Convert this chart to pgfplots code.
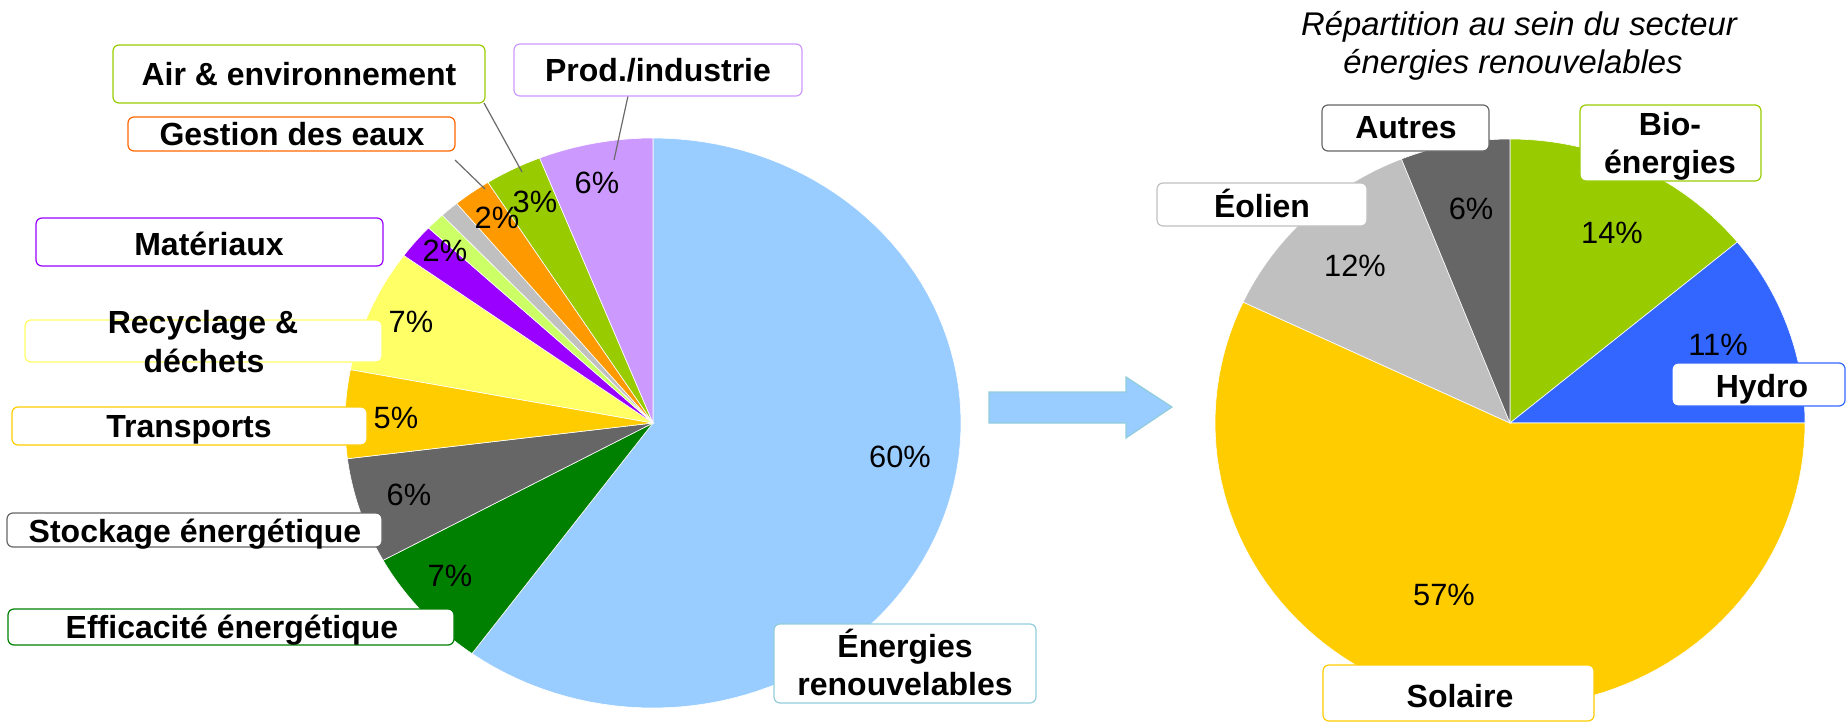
\documentclass[border=0pt]{standalone}
\usepackage{pgfplots}
\pgfplotsset{compat=1.18}
\usepackage{pgfplotstable}
\usepackage{fontspec}
\setmainfont{Liberation Sans}

\definecolor{cER}{HTML}{99CCFF}
\definecolor{cEE}{HTML}{008000}
\definecolor{cSE}{HTML}{666666}
\definecolor{cTR}{HTML}{FFCC00}
\definecolor{cRD}{HTML}{FFFF66}
\definecolor{cMA}{HTML}{9900FF}
\definecolor{cXA}{HTML}{CCFF66}
\definecolor{cXB}{HTML}{C0C0C0}
\definecolor{cGE}{HTML}{FF9900}
\definecolor{cGEb}{HTML}{FF6600}
\definecolor{cAE}{HTML}{99CC00}
\definecolor{cPI}{HTML}{CC99FF}
\definecolor{cBI}{HTML}{99CC00}
\definecolor{cHY}{HTML}{3366FF}
\definecolor{cSO}{HTML}{FFCC00}
\definecolor{cEO}{HTML}{C0C0C0}
\definecolor{cAU}{HTML}{666666}
\definecolor{cTeal}{HTML}{92CDDC}
\definecolor{cLead}{HTML}{6A6A6A}

% Left pie: share of each sector (%), clockwise from 12 o'clock
\pgfplotstableread{
key value color
ER 60 cER
EE 7 cEE
SE 6 cSE
TR 5 cTR
RD 7 cRD
MA 2 cMA
XA 1 cXA
XB 1 cXB
GE 2 cGE
AE 3 cAE
PI 6 cPI
}\leftpie

% Right pie: renewable energies breakdown (%)
\pgfplotstableread{
key value color
BI 14 cBI
HY 11 cHY
SO 57 cSO
EO 12 cEO
AU 6 cAU
}\rightpie

% #1 table, #2 last row index, #3 cx, #4 cy, #5 rx, #6 ry
\newcommand\drawpie[6]{%
  \def\pieacc{90}%
  \pgfplotsforeachungrouped \i in {0,...,#2}{%
    \pgfplotstablegetelem{\i}{value}\of{#1}\let\pieval\pgfplotsretval
    \pgfplotstablegetelem{\i}{color}\of{#1}\let\piecol\pgfplotsretval
    \pgfmathsetmacro\pieend{\pieacc-3.6*\pieval}%
    \edef\piecmd{\noexpand\addplot[fill=\piecol, draw=white, line width=0.3pt, domain=\pieend:\pieacc, samples=90] ({#3+#5*cos(x)},{#4-#6*sin(x)}) -- (axis cs:#3,#4) -- cycle;}%
    \piecmd
    \let\pieacc\pieend
  }%
}

\tikzset{
  lab/.style={anchor=base, inner sep=0pt, font=\bfseries\fontsize{16}{18}\selectfont},
  pct/.style={anchor=base, inner sep=0pt, font=\fontsize{15.4}{18}\selectfont},
  ttl/.style={anchor=base, inner sep=0pt, font=\itshape\fontsize{16.4}{18}\selectfont},
  box/.style={fill=white, line width=0.6pt, rounded corners=3pt},
}

\begin{document}
\begin{tikzpicture}
\begin{axis}[width=923.5pt, height=361.5pt, scale only axis,
  xmin=0, xmax=1847, ymin=0, ymax=723, y dir=reverse,
  hide axis, clip=false]

\drawpie{\leftpie}{10}{653}{423}{308}{285}
\drawpie{\rightpie}{4}{1510}{423}{295}{284}

% arrow
\draw[fill=cER, draw=cTeal, line width=0.6pt] (axis cs:989,392) -- (axis cs:1126,392) -- (axis cs:1126,377) -- (axis cs:1172,407) -- (axis cs:1126,438) -- (axis cs:1126,423) -- (axis cs:989,423) -- cycle;

% leader lines
\draw[cLead, line width=0.6pt] (axis cs:484,103) -- (axis cs:522,172);
\draw[cLead, line width=0.6pt] (axis cs:455,160) -- (axis cs:485,189);
\draw[cLead, line width=0.6pt] (axis cs:628,96) -- (axis cs:614,160);

% label boxes, left
\draw[box, draw=cAE] (axis cs:113,45) rectangle (axis cs:485,103);
\draw[box, draw=cGEb] (axis cs:128,117) rectangle (axis cs:455,151);
\draw[box, draw=cPI] (axis cs:514,44) rectangle (axis cs:802,96);
\draw[box, draw=cMA] (axis cs:36,218) rectangle (axis cs:383,266);
\draw[box, draw=cRD] (axis cs:25,320) rectangle (axis cs:382,362);
\draw[box, draw=cTR] (axis cs:12,407) rectangle (axis cs:367,445);
\draw[box, draw=cSE] (axis cs:7,513) rectangle (axis cs:382,547);
\draw[box, draw=cEE] (axis cs:8,609) rectangle (axis cs:454,645);
\draw[box, draw=cTeal] (axis cs:774,624) rectangle (axis cs:1036,703);

% label boxes, right
\draw[box, draw=cAU] (axis cs:1322,105) rectangle (axis cs:1489,151);
\draw[box, draw=cEO] (axis cs:1157,183) rectangle (axis cs:1367,226);
\draw[box, draw=cBI] (axis cs:1580,105) rectangle (axis cs:1761,181);
\draw[box, draw=cHY] (axis cs:1672,363) rectangle (axis cs:1845,406);
\draw[box, draw=cSO] (axis cs:1323,665) rectangle (axis cs:1594,721);

% label texts, left
\node[lab] at (axis cs:299,85) {Air \& environnement};
\node[lab] at (axis cs:292,145) {Gestion des eaux};
\node[lab] at (axis cs:658,81) {Prod./industrie};
\node[lab] at (axis cs:209,255) {Matériaux};
\node[lab] at (axis cs:203,333) {Recyclage \&};
\node[lab] at (axis cs:204,372) {déchets};
\node[lab] at (axis cs:189,437) {Transports};
\node[lab] at (axis cs:195,542) {Stockage énergétique};
\node[lab] at (axis cs:232,638) {Efficacité énergétique};
\node[lab] at (axis cs:905,657) {Énergies};
\node[lab] at (axis cs:905,695) {renouvelables};

% label texts, right
\node[ttl] at (axis cs:1519,35) {Répartition au sein du secteur};
\node[ttl] at (axis cs:1513,73) {énergies renouvelables};
\node[lab] at (axis cs:1406,138) {Autres};
\node[lab] at (axis cs:1262,217) {Éolien};
\node[lab] at (axis cs:1670,135) {Bio-};
\node[lab] at (axis cs:1670,173) {énergies};
\node[lab] at (axis cs:1762,397) {Hydro};
\node[lab] at (axis cs:1460,707) {Solaire};

% percentages, left
\node[pct] at (axis cs:900,467) {60\%};
\node[pct] at (axis cs:450,586) {7\%};
\node[pct] at (axis cs:409,505) {6\%};
\node[pct] at (axis cs:396,428) {5\%};
\node[pct] at (axis cs:411,332) {7\%};
\node[pct] at (axis cs:445,261) {2\%};
\node[pct] at (axis cs:497,228) {2\%};
\node[pct] at (axis cs:535,212) {3\%};
\node[pct] at (axis cs:597,193) {6\%};

% percentages, right
\node[pct] at (axis cs:1612,243) {14\%};
\node[pct] at (axis cs:1718,355) {11\%};
\node[pct] at (axis cs:1444,605) {57\%};
\node[pct] at (axis cs:1355,276) {12\%};
\node[pct] at (axis cs:1471,219) {6\%};

\end{axis}
\pgfresetboundingbox
\useasboundingbox (current axis.south west) rectangle (current axis.north east);
\end{tikzpicture}
\end{document}
